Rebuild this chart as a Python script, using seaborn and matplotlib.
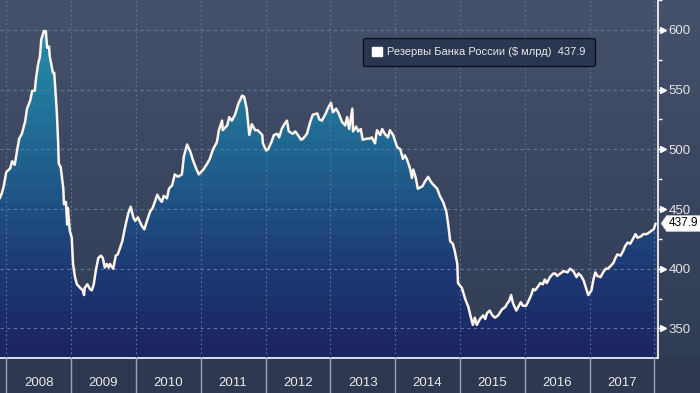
import numpy as np
import pandas as pd
import matplotlib
matplotlib.use("Agg")
import matplotlib.pyplot as plt
import seaborn as sns
from matplotlib.colors import LinearSegmentedColormap
from matplotlib.patches import Patch, Polygon
from matplotlib.path import Path
from matplotlib.transforms import ScaledTranslation

# Bank of Russia reserves (decimal year, $ bn)
dates = [
    2007.90, 2007.93, 2007.96, 2008.00, 2008.06, 2008.09, 2008.13, 2008.17, 2008.20, 2008.24,
    2008.29, 2008.32, 2008.37, 2008.40, 2008.44, 2008.46, 2008.49, 2008.52, 2008.54, 2008.58,
    2008.61, 2008.63, 2008.66, 2008.67, 2008.72, 2008.74, 2008.75, 2008.78, 2008.80, 2008.81,
    2008.84, 2008.88, 2008.89, 2008.92, 2008.94, 2008.95, 2008.98, 2009.01, 2009.03, 2009.06,
    2009.09, 2009.14, 2009.18, 2009.20, 2009.21, 2009.25, 2009.29, 2009.32, 2009.35, 2009.38,
    2009.42, 2009.46, 2009.49, 2009.52, 2009.55, 2009.58,
    2009.60, 2009.65, 2009.69, 2009.72, 2009.79, 2009.83, 2009.88, 2009.92, 2009.96, 2009.99,
    2010.03, 2010.09, 2010.13, 2010.17, 2010.22, 2010.26, 2010.33, 2010.37, 2010.40, 2010.43,
    2010.48, 2010.51, 2010.56, 2010.60, 2010.65, 2010.71, 2010.74, 2010.79, 2010.84, 2010.88,
    2010.93, 2010.97,
    2011.04, 2011.10, 2011.14, 2011.19, 2011.25, 2011.28, 2011.33, 2011.34, 2011.41, 2011.44,
    2011.48, 2011.53, 2011.58, 2011.64, 2011.67, 2011.71, 2011.75, 2011.79, 2011.84, 2011.88,
    2011.95, 2011.96, 2012.01, 2012.04, 2012.09, 2012.13, 2012.18, 2012.21, 2012.25, 2012.29,
    2012.33, 2012.36, 2012.42,
    2012.46, 2012.50, 2012.55, 2012.58, 2012.64, 2012.69, 2012.73, 2012.80, 2012.83, 2012.87,
    2012.93, 2012.96, 2013.01, 2013.04, 2013.09, 2013.13, 2013.18, 2013.23, 2013.26, 2013.29,
    2013.34, 2013.35, 2013.40, 2013.43, 2013.47, 2013.50, 2013.57, 2013.61, 2013.64, 2013.69,
    2013.72, 2013.77, 2013.80, 2013.84, 2013.89, 2013.92, 2013.97,
    2014.03, 2014.08, 2014.12, 2014.15, 2014.18, 2014.23, 2014.26, 2014.28, 2014.32, 2014.35,
    2014.42, 2014.46, 2014.51, 2014.55, 2014.58, 2014.65, 2014.69, 2014.74, 2014.79, 2014.82,
    2014.85, 2014.89, 2014.92, 2014.96, 2014.97, 2015.03, 2015.08, 2015.13, 2015.17, 2015.20,
    2015.23, 2015.26, 2015.31,
    2015.36, 2015.39, 2015.42, 2015.46, 2015.50, 2015.54, 2015.59, 2015.65, 2015.70, 2015.73,
    2015.76, 2015.79, 2015.82, 2015.87, 2015.90, 2015.94, 2015.97, 2016.02, 2016.05, 2016.10,
    2016.13, 2016.16, 2016.19, 2016.24, 2016.28, 2016.31, 2016.34, 2016.39, 2016.44, 2016.47,
    2016.50, 2016.55, 2016.60, 2016.66, 2016.70,
    2016.75, 2016.80, 2016.83, 2016.87, 2016.91, 2016.95, 2016.98, 2017.03, 2017.06, 2017.09,
    2017.12, 2017.17, 2017.21, 2017.25, 2017.28, 2017.32, 2017.37, 2017.40, 2017.43, 2017.48,
    2017.52, 2017.55, 2017.59, 2017.63, 2017.68, 2017.71, 2017.74, 2017.79, 2017.83, 2017.88,
    2017.91, 2017.96, 2017.99, 2018.02,
]
reserves = [
    459, 463, 469, 481, 484, 490, 487, 500, 509, 513,
    523, 534, 541, 549, 549, 560, 571, 578, 592, 599,
    599, 585, 586, 578, 564, 564, 556, 531, 506, 488,
    485, 467, 454, 456, 437, 451, 432, 426, 404, 393,
    387, 384, 382, 378, 384, 387, 383, 382, 387, 398,
    409, 411, 409, 401, 404, 401,
    404, 400, 411, 412, 423, 434, 446, 452, 443, 440,
    443, 436, 433, 440, 448, 451, 462, 458, 456, 461,
    459, 467, 470, 479, 477, 479, 494, 504, 498, 491,
    484, 479,
    483, 488, 492, 500, 506, 516, 524, 516, 520, 527,
    524, 529, 538, 545, 544, 534, 512, 521, 516, 516,
    512, 505, 499, 500, 506, 512, 513, 510, 517, 521,
    524, 515, 513,
    515, 512, 508, 509, 513, 523, 529, 530, 525, 524,
    530, 534, 539, 531, 534, 530, 523, 520, 527, 517,
    534, 515, 519, 515, 517, 508, 509, 509, 510, 505,
    516, 512, 517, 513, 510, 516, 512,
    502, 500, 492, 495, 492, 484, 476, 483, 476, 467,
    469, 473, 477, 473, 471, 467, 461, 456, 448, 437,
    423, 421, 415, 404, 388, 384, 375, 368, 359, 353,
    359, 353, 358,
    361, 358, 363, 365, 361, 359, 361, 366, 368, 371,
    373, 378, 371, 365, 368, 372, 369, 369, 372, 378,
    383, 382, 384, 388, 387, 391, 388, 393, 396, 396,
    394, 396, 398, 397, 400,
    398, 393, 396, 394, 390, 383, 378, 382, 391, 397,
    394, 393, 397, 400, 400, 402, 405, 409, 412, 411,
    415, 419, 422, 421, 426, 429, 426, 427, 429, 429,
    430, 432, 433, 437.9,
]
last_value = 437.9
series_name = "Резервы Банка России ($ млрд)"
years = list(range(2008, 2018))
y_ticks = [350, 400, 450, 500, 550, 600]

df = pd.DataFrame({"date": dates, "reserves": reserves})

sns.set_theme(style="dark")
plt.rcParams["font.family"] = ["Liberation Sans", "DejaVu Sans"]

W, H = 700, 393
fig = plt.figure(figsize=(W / 100, H / 100), dpi=100)

# figure background: banded dark gradient + bottom strip
bg_ax = fig.add_axes([0, 0, 1, 1], zorder=0)
bg_cmap = LinearSegmentedColormap.from_list("bg", ["#45516b", "#303b54"])
rows = np.arange(H)
band = np.floor(rows / 16) * 16 / 358.0
bg = bg_cmap(np.clip(band, 0, 1))
bg[358:] = matplotlib.colors.to_rgba("#2e3951")
bg_ax.imshow(bg[:, None, :], extent=[0, 1, 0, 1], aspect="auto")
bg_ax.axis("off")

ax = fig.add_axes([0, 1 - 358 / H, 657.7 / W, 358 / H], zorder=1)
ax.set_facecolor("none")

x_lo, x_hi = 2007.903, 2018.052
y_lo, y_hi = 325.3, 622.4

# gradient fill under the curve, in horizontal bands
fill_cmap = LinearSegmentedColormap.from_list(
    "fill",
    [(0.0, "#1b2561"), (0.09, "#1c2d69"), (0.25, "#1d3c76"), (0.42, "#1f5385"),
     (0.59, "#206893"), (0.76, "#237e9f"), (1.0, "#2a95ae")])
vals = np.linspace(y_hi, y_lo, 600)
qv = np.floor(vals / 13) * 13
fill_img = fill_cmap(np.clip((qv - y_lo) / (y_hi - y_lo), 0, 1))
im = ax.imshow(fill_img[:, None, :], extent=[x_lo, x_hi, y_lo, y_hi],
               aspect="auto", zorder=1, interpolation="nearest")
verts = [(dates[0], y_lo)] + list(zip(dates, reserves)) + [(dates[-1], y_lo)]
clip = Polygon(verts, closed=True, facecolor="none", edgecolor="none",
               transform=ax.transData)
ax.add_patch(clip)
im.set_clip_path(clip)

sns.lineplot(data=df, x="date", y="reserves", ax=ax, color="#fff4ec",
             linewidth=1.8, zorder=5)

ax.set_xlim(x_lo, x_hi)
ax.set_ylim(y_lo, y_hi)
ax.set_xlabel("")
ax.set_ylabel("")

# grid
grid_kw = dict(color="#5a7a97", linewidth=0.8, linestyle=(0, (3, 3)))
ax.set_axisbelow(False)
ax.set_yticks(y_ticks)
ax.set_yticks(np.arange(350, 626, 25), minor=True)
ax.set_xticks(years + [2018])
ax.set_xticks([y + 0.5 for y in years], minor=True)
ax.set_xticklabels([str(y) for y in years], minor=True)
ax.grid(axis="y", which="major", **grid_kw)
ax.grid(axis="x", which="major", color="#5a7a97", linewidth=0.8,
        linestyle=(0, (1.5, 2.5)))

# spines
for s in ["left", "top"]:
    ax.spines[s].set_visible(False)
for s in ["right", "bottom"]:
    ax.spines[s].set_visible(True)
    ax.spines[s].set_color("white")
    ax.spines[s].set_linewidth(1.2)

# x axis: separators in the bottom strip, year labels centred
ax.tick_params(axis="x", which="major", bottom=True, length=26, width=1,
               color="#9aa2ae", labelbottom=False, direction="out")
ax.tick_params(axis="x", which="minor", bottom=True, length=0, pad=14,
               labelsize=9.5, labelcolor="#eaeaea")

# y axis on the right
ax.yaxis.tick_right()
ax.tick_params(axis="y", which="major", right=True, left=False, length=3.6,
               width=1, color="white", pad=4, labelsize=9.5, labelcolor="#e4e4e4")
ax.tick_params(axis="y", which="minor", right=True, left=False, length=3,
               width=1, color="white")
tr = ax.get_yaxis_transform() + ScaledTranslation(0.055, 0, fig.dpi_scale_trans)
ax.plot([1] * len(y_ticks), y_ticks, ">", ms=4.5, color="white",
        transform=tr, clip_on=False, zorder=6)


# last value tag with a pointed left edge
def tag_box(x0, y0, width, height, mutation_size):
    pad = mutation_size * 0.18
    x0, y0 = x0 - pad, y0 - pad
    x1, y1 = x0 + width + 2 * pad, y0 + height + 2 * pad
    h = (y1 - y0) / 2
    return Path([(x0, y0), (x1, y0), (x1, y1), (x0, y1), (x0 - 0.7 * h, y0 + h),
                 (x0, y0)], closed=True)


ax.annotate(f"{last_value}", xy=(1, last_value), xycoords=("axes fraction", "data"),
            xytext=(8, 0), textcoords="offset points", ha="left", va="center",
            fontsize=8.5, color="black", annotation_clip=False,
            bbox=dict(boxstyle=tag_box, fc="white", ec="#bbbbbb", lw=0.5))

# legend
leg = ax.legend(handles=[Patch(facecolor="white", edgecolor="white")],
                labels=[f"{series_name}  {last_value}"],
                loc="upper left", bbox_to_anchor=(363 / 657.7, 1 - 38 / 358),
                borderaxespad=0, fontsize=8, labelcolor="#e8e8e8",
                facecolor="#2b3650", edgecolor="#0c111b", framealpha=1,
                handlelength=0.9, handleheight=0.9, handletextpad=0.5,
                borderpad=0.8, fancybox=True)
leg.get_frame().set_linewidth(1.0)
leg.set_zorder(10)

fig.savefig("out.png", dpi=100)
